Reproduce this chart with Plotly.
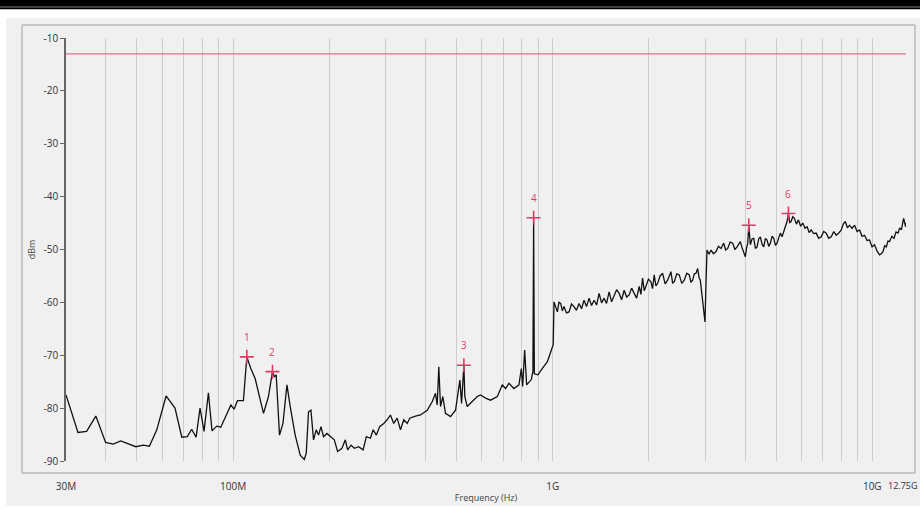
import math
import plotly.graph_objects as go

# Spectrum trace (frequency in MHz, level in dBm)
FREQ_MHZ = [
    30, 32.7, 34.8, 37.2, 39.9, 42.2, 44.5, 47.0, 49.6, 52.4, 54.7, 57.7, 61.7, 65.8,
    69.1, 71.9, 74.2, 76.6, 78.8, 81.1, 83.7, 85.9, 88.9, 91.5, 95.1, 98.4, 100.7, 103.2,
    107.7, 110.4, 113.6, 117.2, 124.5, 129.0, 132.8, 134.7, 136.4, 139.7, 143.2, 147.4,
    150.9, 156.4, 162.2, 167.0, 169.4, 172.2, 175.2, 178.5, 182.0, 185.1, 188.3, 191.9,
    196.6, 201.4, 207.3, 212.3, 219.1, 224.4, 228.2, 233.9, 239.5, 247.1, 255.1, 261.2,
    268.9, 274.2, 280.8, 287.5, 296.0, 303.3, 310.6, 318.1, 326.1, 333.9, 342.0, 350.5,
    357.1, 372.1, 385.7, 404.9, 419.7, 429.8, 435.1, 440.2, 445.6, 453.1, 461.9, 478.9,
    496.6, 512.3, 518.6, 527.3, 530.9, 540.2, 560.1, 580.6, 594.7, 616.6, 639.2, 670.9,
    695.5, 712.4, 729.5, 756.3, 784.1, 797.8, 805.4, 817.0, 828.9, 842.7, 857.4, 867.3,
    871.7, 876.2, 899.2, 928.3, 962.5, 990.6, 1003.7,
    1009.5, 1021, 1034.4, 1046, 1059.5, 1072, 1085.0, 1104, 1124.9, 1145, 1166.3, 1187,
    1209.0, 1231, 1253.5, 1276, 1299.6, 1323, 1347.5, 1372, 1397.0, 1422, 1448.3, 1474,
    1501.6, 1529, 1556.9, 1585, 1614.0, 1643, 1673.3, 1704, 1734.9, 1766, 1798.7, 1831,
    1864.7, 1888, 1911.2, 1934, 1957.0, 1993, 2029.0, 2053, 2078.2, 2104, 2129.6, 2168,
    2208.0, 2248, 2289.3, 2316, 2344.2, 2372, 2401.0, 2444, 2488.9, 2534, 2580.5, 2627,
    2675.5, 2708, 2741.6, 2774, 2807.9, 2842.4, 2870, 2896.5, 2920, 2947.0, 2996.3,
    3017.8, 3040.1,
    3084, 3128.8, 3185, 3243.4, 3302, 3362.1, 3428.5, 3478, 3528.6, 3592, 3658.5, 3715,
    3774.0, 3864.6, 3910, 3960.9, 4006.8, 4040, 4076.6, 4106.7, 4130, 4154.3, 4205,
    4257.0, 4308, 4360.1, 4412, 4464.7, 4520, 4575.9, 4630, 4685.8, 4742, 4798.9, 4857,
    4917.4, 4976, 5036.4, 5096, 5157.6, 5220, 5286.2, 5350, 5413.6, 5464.9, 5517, 5571.6,
    5638, 5706.6, 5790, 5873.5, 5968, 6063.3, 6158, 6254.1, 6345, 6437.0, 6555, 6673.3,
    6797, 6921.8, 7048, 7176.5, 7308, 7440.6, 7577, 7714.0, 7855, 7997.0, 8115, 8232.7,
    8360, 8490.0, 8645, 8802.0, 8963, 9125.7, 9292, 9461.3, 9633, 9806.4, 9985, 10166,
    10352, 10541, 10670, 10802, 10932, 11064, 11196, 11331, 11512, 11695, 11865, 12038,
    12182, 12328, 12535, 12718, 12750,
]
LEVEL_DBM = [
    -77.5, -84.6, -84.4, -81.5, -86.5, -86.8, -86.2, -86.8, -87.3, -87.0, -87.2, -84.1, -77.7, -80.0,
    -85.5, -85.4, -84.0, -85.5, -80.0, -84.4, -77.1, -84.3, -83.4, -83.6, -81.5, -79.4, -80.2, -78.6,
    -78.6, -70.3, -72.5, -74.4, -81.0, -77.8, -73.1, -74.1, -73.7, -85.1, -82.9, -75.6,
    -79.7, -85.1, -88.9, -89.7, -88.5, -80.7, -80.4, -86.0, -84.1, -85.1, -83.5, -85.4,
    -84.8, -85.4, -86.0, -88.2, -87.6, -86.0, -87.9, -87.0, -87.6, -87.3, -87.9, -85.4,
    -85.7, -84.1, -85.1, -83.5, -82.9, -82.2, -81.3, -82.9, -81.9, -84.1, -82.2, -82.9,
    -81.9, -81.5, -81.3, -80.4, -78.8, -77.2, -79.4, -72.2, -79.7, -77.8, -81.0, -81.6,
    -80.4, -74.7, -79.1, -71.9, -77.8, -79.7, -78.8, -77.8, -77.5, -78.1, -78.5, -77.8,
    -75.6, -76.3, -75.3, -76.3, -75.6, -72.5, -75.9, -69.0, -75.6, -75.0, -74.6, -73.0,
    -44.0, -73.5, -73.7, -72.5, -71.2, -69.0, -68.0,
    -59.9, -61.0, -61.8, -60.0, -60.2, -61.6, -60.8, -62.0, -61.8, -60.3, -60.8, -61.5,
    -60.2, -61.2, -59.6, -60.8, -59.2, -60.6, -59.6, -60.5, -58.3, -60.1, -59.2, -60.2,
    -58.0, -59.9, -58.9, -57.6, -58.3, -59.5, -57.7, -59.0, -58.6, -57.3, -58.3, -59.2,
    -57.0, -58.5, -55.4, -57.8, -57.0, -55.6, -56.1, -57.4, -54.8, -56.9, -56.4, -55.0,
    -54.5, -56.5, -55.8, -54.9, -54.2, -56.3, -56.1, -54.6, -54.8, -56.4, -55.8, -54.5,
    -54.8, -56.2, -55.8, -54.6, -54.5, -53.6, -55.3, -55.8, -57.5, -60.2, -63.7,
    -56.4, -50.1,
    -50.9, -50.1, -50.8, -50.4, -49.4, -49.8, -48.8, -50.1, -49.8, -48.6, -48.8, -50.0,
    -49.5, -48.5, -49.6, -50.4, -51.4, -49.8, -48.8, -45.4, -48.3, -49.1, -48.0,
    -47.9, -49.8, -49.5, -48.0, -47.6, -49.0, -49.5, -47.9, -48.2, -49.4, -48.8, -47.5,
    -47.9, -49.2, -48.8, -47.8, -46.9, -47.6, -46.3, -45.6, -44.7, -43.2, -44.9, -44.7,
    -43.8, -44.1, -45.2, -44.4, -45.6, -45.0, -46.0, -45.7, -46.8, -46.3, -47.0, -46.9,
    -47.9, -47.6, -46.6, -46.9, -47.9, -47.6, -46.6, -47.3, -46.9, -46.3, -45.2, -44.7,
    -45.9, -45.4, -46.0, -45.4, -46.6, -46.3, -47.5, -47.3, -48.3, -48.2, -49.5, -49.1,
    -50.3, -51.0, -50.8, -50.4, -49.3, -49.5, -48.4, -48.5, -47.5, -47.9, -46.7, -46.9,
    -45.9, -46.3, -44.1, -45.7, -45.0,
]

# Peak markers
MARKER_LABELS = ["1", "2", "3", "4", "5", "6"]
MARKER_FREQ_MHZ = [110.4, 132.8, 527.3, 871.7, 4106.7, 5464.9]
MARKER_DBM = [-70.3, -73.1, -71.9, -44.0, -45.4, -43.2]

LIMIT_DBM = -13
REF_LINES_DBM = [-20, -80]

# x ticks / grid positions (MHz); the last label sits at the right edge
X_TICKS = [30, 40, 50, 60, 70, 80, 90, 100, 200, 300, 400, 500, 600, 700, 800, 900,
           1000, 2000, 3000, 4000, 5000, 6000, 7000, 8000, 9000, 10000, 12750]
X_LABELS = {30: "30M", 100: "100M", 1000: "1G", 10000: "10G"}
END_LABEL = "12.75G"
Y_TICKS = [-10, -20, -30, -40, -50, -60, -70, -80, -90]

RED = "#e23a62"
FONT = "Open Sans"

fig = go.Figure()

fig.add_trace(go.Scatter(
    x=FREQ_MHZ, y=LEVEL_DBM, mode="lines",
    line=dict(color="#111111", width=1.3),
    hoverinfo="skip", showlegend=False,
))

fig.add_trace(go.Scatter(
    x=MARKER_FREQ_MHZ, y=MARKER_DBM, mode="markers",
    marker=dict(symbol="cross-thin", size=10, line=dict(color=RED, width=1.6)),
    showlegend=False,
))

# annotation x on a log axis is given in log10 units
for lab, f, v in zip(MARKER_LABELS, MARKER_FREQ_MHZ, MARKER_DBM):
    fig.add_annotation(x=math.log10(f), y=v, text=lab, showarrow=False, yshift=20,
                       font=dict(color=RED, size=10, family=FONT))

# end-of-range label, pulled in so it stays on the page
fig.add_annotation(x=1.0167, y=-0.059, xref="paper", yref="paper", text=END_LABEL,
                   showarrow=False, xanchor="right", yanchor="middle",
                   font=dict(size=9, color="#333333", family=FONT))

# limit line and the two visible horizontal reference lines
fig.add_hline(y=LIMIT_DBM, line=dict(color="#e0708a", width=1.4))
fig.add_hline(y=REF_LINES_DBM[0], line=dict(color="#a8a8a8", width=1), layer="below")
fig.add_hline(y=REF_LINES_DBM[1], line=dict(color="#d4d4d4", width=1), layer="below")

# page decoration: panel, frame and the black bars at the top edge
shapes = [
    dict(type="rect", xref="paper", yref="paper", x0=-0.071, x1=1.02, y0=-0.105, y1=1.047,
         fillcolor="#f0f0f0", line=dict(width=0), layer="below"),
    dict(type="rect", xref="paper", yref="paper", x0=-0.0524, x1=1.0107, y0=-0.0284, y1=1.0307,
         line=dict(color="#a0a0a0", width=1), layer="below"),
    dict(type="rect", xref="paper", yref="paper", x0=-0.08, x1=1.02, y0=1.074, y1=1.092,
         fillcolor="black", line=dict(width=0)),
    dict(type="rect", xref="paper", yref="paper", x0=-0.08, x1=1.02, y0=1.0678, y1=1.0726,
         fillcolor="black", line=dict(width=0)),
]
fig.update_layout(shapes=list(fig.layout.shapes) + shapes)

fig.update_xaxes(
    type="log", range=[math.log10(X_TICKS[0]), math.log10(X_TICKS[-1])],
    tickvals=X_TICKS, ticktext=[X_LABELS.get(t, "") for t in X_TICKS],
    showgrid=True, gridcolor="#cdcdcd", gridwidth=1,
    ticks="", ticklabelstandoff=18, automargin=False,
    tickfont=dict(size=10, color="#333333", family=FONT),
    showline=False, zeroline=False,
    title=dict(text="Frequency (Hz)", font=dict(size=9, color="#444444", family=FONT), standoff=2),
)
fig.update_yaxes(
    range=[-90, -10], tickvals=Y_TICKS, ticktext=[str(t) for t in Y_TICKS],
    showgrid=False, zeroline=False, automargin=False,
    showline=True, linecolor="#666666", linewidth=1.5,
    ticks="outside", ticklen=4, tickcolor="#666666",
    tickfont=dict(size=10, color="#333333", family=FONT),
    title=dict(text="dBm", font=dict(size=9, color="#444444", family=FONT), standoff=6),
)

fig.update_layout(
    width=920, height=510,
    margin=dict(l=66, r=14, t=38, b=49),
    paper_bgcolor="white", plot_bgcolor="#f0f0f0",
    font=dict(family=FONT),
    showlegend=False,
)

# drop the browser's default body margin so the figure sits at the page origin
fig.write_html("out.html", config={"displayModeBar": False},
               post_script="document.body.style.margin='0';")
